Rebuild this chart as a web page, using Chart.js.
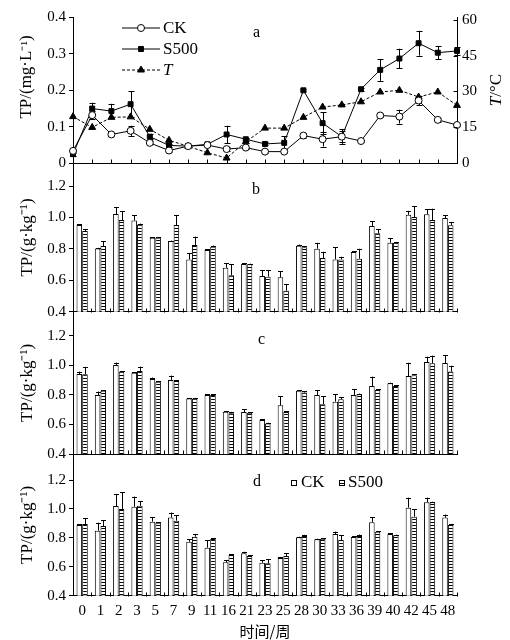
<!DOCTYPE html>
<html>
<head>
<meta charset="utf-8">
<script src="https://cdn.jsdelivr.net/npm/chart.js@4.4.1/dist/chart.umd.min.js"></script>
<style>
  html, body { margin: 0; padding: 0; background: #fff; }
  #wrap { position: relative; width: 510px; height: 640px; }
  #wrap canvas { position: absolute; left: 0; top: 0; }
</style>
</head>
<body>
<div id="wrap">
  <canvas id="ca" width="510" height="640"></canvas>
  <canvas id="cb" width="510" height="640"></canvas>
  <canvas id="cc" width="510" height="640"></canvas>
  <canvas id="cd" width="510" height="640"></canvas>
</div>
<script>
const weeks = ["0", "1", "2", "3", "5", "7", "9", "11", "16", "21", "23", "25", "28", "30", "33", "36", "39", "40", "42", "45", "48"];

// a: water TP (mg/L) and temperature
const waterCK = [0.034, 0.132, 0.079, 0.089, 0.056, 0.035, 0.047, 0.05, 0.039, 0.043, 0.032, 0.032, 0.076, 0.066, 0.073, 0.061, 0.131, 0.128, 0.172, 0.119, 0.105];
const waterCKErr = [0.005, 0.01, 0.005, 0.014, 0.004, 0.004, 0.003, 0.003, 0.006, 0.003, 0.003, 0.003, 0.008, 0.02, 0.016, 0.003, 0.005, 0.019, 0.012, 0.006, 0.004];
const waterS500 = [0.025, 0.15, 0.143, 0.162, 0.073, 0.049, 0.047, 0.052, 0.079, 0.066, 0.053, 0.056, 0.2, 0.11, 0.073, 0.203, 0.256, 0.287, 0.329, 0.303, 0.308];
const waterS500Err = [0.006, 0.016, 0.02, 0.036, 0.006, 0.004, 0.003, 0.003, 0.024, 0.004, 0.004, 0.018, 0.003, 0.03, 0.02, 0.004, 0.03, 0.027, 0.034, 0.018, 0.012];
const tempT = [19.5, 15, 19.2, 19.4, 14.2, 9.6, 7.1, 4.4, 2.2, 9, 14.7, 14.7, 19.2, 23.5, 24.4, 25.7, 29.8, 30.5, 27.7, 29.8, 24.2];

// b, c, d: sediment TP (g/kg)
const bCK = [0.952, 0.803, 1.022, 0.98, 0.871, 0.85, 0.733, 0.793, 0.68, 0.704, 0.627, 0.619, 0.82, 0.801, 0.733, 0.78, 0.946, 0.839, 1.017, 1.02, 0.996];
const bCKErr = [0.005, 0.004, 0.042, 0.036, 0.003, 0.003, 0.04, 0.005, 0.028, 0.004, 0.038, 0.04, 0.007, 0.038, 0.077, 0.004, 0.03, 0.028, 0.025, 0.032, 0.017];
const bS500 = [0.914, 0.818, 0.984, 0.956, 0.871, 0.952, 0.825, 0.814, 0.632, 0.702, 0.623, 0.534, 0.81, 0.742, 0.733, 0.737, 0.899, 0.839, 1.003, 0.984, 0.95];
const bS500Err = [0.01, 0.03, 0.057, 0.005, 0.003, 0.064, 0.053, 0.007, 0.07, 0.004, 0.04, 0.043, 0.007, 0.04, 0.017, 0.064, 0.025, 0.004, 0.068, 0.072, 0.02];

const cCK = [0.941, 0.799, 1.002, 0.95, 0.907, 0.9, 0.776, 0.799, 0.686, 0.684, 0.63, 0.729, 0.828, 0.799, 0.754, 0.799, 0.86, 0.878, 0.927, 1.022, 1.015];
const cCKErr = [0.016, 0.023, 0.016, 0.004, 0.01, 0.03, 0.003, 0.004, 0.004, 0.02, 0.004, 0.063, 0.004, 0.031, 0.052, 0.038, 0.063, 0.004, 0.09, 0.036, 0.052];
const cS500 = [0.939, 0.828, 0.957, 0.961, 0.889, 0.893, 0.776, 0.799, 0.675, 0.679, 0.607, 0.684, 0.815, 0.736, 0.77, 0.804, 0.833, 0.86, 0.932, 1.013, 0.957];
const cS500Err = [0.05, 0.004, 0.004, 0.03, 0.004, 0.004, 0.003, 0.004, 0.01, 0.004, 0.004, 0.004, 0.01, 0.056, 0.012, 0.004, 0.004, 0.004, 0.006, 0.052, 0.04];

const dCK = [0.889, 0.85, 1.02, 1.015, 0.912, 0.94, 0.773, 0.732, 0.631, 0.693, 0.628, 0.661, 0.804, 0.79, 0.827, 0.806, 0.908, 0.827, 1.009, 1.046, 0.94];
const dCKErr = [0.004, 0.055, 0.08, 0.07, 0.03, 0.035, 0.016, 0.053, 0.016, 0.011, 0.018, 0.004, 0.004, 0.004, 0.016, 0.004, 0.035, 0.004, 0.069, 0.032, 0.021];
const dS500 = [0.896, 0.882, 1.0, 1.022, 0.905, 0.919, 0.808, 0.792, 0.681, 0.675, 0.624, 0.675, 0.813, 0.794, 0.785, 0.813, 0.843, 0.818, 0.946, 1.046, 0.889];
const dS500Err = [0.04, 0.041, 0.115, 0.033, 0.004, 0.039, 0.016, 0.004, 0.004, 0.004, 0.028, 0.018, 0.008, 0.004, 0.035, 0.01, 0.004, 0.004, 0.053, 0.004, 0.004];

const SERIF = "'Liberation Serif', 'Times New Roman', serif";
Chart.defaults.font.family = SERIF;
Chart.defaults.font.size = 15;
Chart.defaults.color = "#000";

// horizontal-stripe fill for the S500 bars
function stripes() {
  const c = document.createElement("canvas");
  c.width = 4;
  c.height = 3;
  const g = c.getContext("2d");
  g.fillStyle = "#fff";
  g.fillRect(0, 0, 4, 3);
  g.fillStyle = "#000";
  g.fillRect(0, 0, 4, 1);
  return g.createPattern(c, "repeat");
}
const stripeFill = stripes();

// error bars, drawn from each dataset's err array through the y scale
function drawErrors(chart, both, cap) {
  const ctx = chart.ctx;
  ctx.save();
  ctx.strokeStyle = "#000";
  ctx.lineWidth = 1;
  chart.data.datasets.forEach((ds, i) => {
    if (!ds.err) return;
    const ys = chart.scales[ds.yAxisID || "y"];
    chart.getDatasetMeta(i).data.forEach((el, j) => {
      const v = ds.data[j];
      const e = ds.err[j];
      const x = Math.round(el.x) + 0.5;
      const top = ys.getPixelForValue(v + e);
      const bot = both ? ys.getPixelForValue(v - e) : ys.getPixelForValue(v);
      ctx.beginPath();
      ctx.moveTo(x, top);
      ctx.lineTo(x, bot);
      ctx.moveTo(x - cap / 2, Math.round(top) + 0.5);
      ctx.lineTo(x + cap / 2, Math.round(top) + 0.5);
      if (both) {
        ctx.moveTo(x - cap / 2, Math.round(bot) + 0.5);
        ctx.lineTo(x + cap / 2, Math.round(bot) + 0.5);
      }
      ctx.stroke();
    });
  });
  ctx.restore();
}

// small tick marks pointing into the plot
function innerTicks(chart, between) {
  const ctx = chart.ctx;
  const xs = chart.scales.x;
  const b = Math.round(chart.chartArea.bottom) + 0.5;
  ctx.save();
  ctx.strokeStyle = "#000";
  ctx.lineWidth = 1;
  ctx.beginPath();
  const n = weeks.length;
  if (between) {
    const w = xs.getPixelForTick(1) - xs.getPixelForTick(0);
    for (let i = 1; i <= n; i++) {
      const x = Math.round(xs.getPixelForTick(i - 1) + w / 2) + 0.5;
      ctx.moveTo(x, b);
      ctx.lineTo(x, b - 4);
    }
  } else {
    for (let i = 1; i < n - 1; i++) {
      const x = Math.round(xs.getPixelForTick(i)) + 0.5;
      ctx.moveTo(x, b);
      ctx.lineTo(x, b - 4);
    }
  }
  if (chart.scales.y1) {
    const y1 = chart.scales.y1;
    const r = Math.round(chart.chartArea.right) + 0.5;
    y1.ticks.forEach((t) => {
      const y = Math.round(y1.getPixelForValue(t.value)) + 0.5;
      ctx.moveTo(r, y);
      ctx.lineTo(r - 4, y);
    });
  }
  ctx.stroke();
  ctx.restore();
}

function vText(ctx, parts, x, y) {
  // parts: [[text, font], ...], drawn bottom-to-top, centred on (x, y)
  let total = 0;
  parts.forEach((p) => { ctx.font = p[1]; total += ctx.measureText(p[0]).width; });
  ctx.save();
  ctx.translate(x, y + total / 2);
  ctx.rotate(-Math.PI / 2);
  ctx.textAlign = "left";
  ctx.textBaseline = "middle";
  ctx.fillStyle = "#000";
  let off = 0;
  parts.forEach((p) => {
    ctx.font = p[1];
    ctx.fillText(p[0], off, 0);
    off += ctx.measureText(p[0]).width;
  });
  ctx.restore();
}

const waterPlugin = {
  id: "waterPlugin",
  beforeDatasetsDraw(chart) {
    drawErrors(chart, true, 6);
  },
  afterDraw(chart) {
    const ctx = chart.ctx;
    innerTicks(chart, false);
    // legend: line + marker + label
    const ly = [27.5, 48.5, 69.5];
    ctx.save();
    chart.data.datasets.forEach((ds, i) => {
      ctx.strokeStyle = "#000";
      ctx.lineWidth = 1;
      ctx.setLineDash(ds.borderDash || []);
      ctx.beginPath();
      ctx.moveTo(122, ly[i] + 0.5);
      ctx.lineTo(160, ly[i] + 0.5);
      ctx.stroke();
      ctx.setLineDash([]);
      ctx.fillStyle = ds.pointBackgroundColor;
      Chart.helpers.drawPoint(ctx, { pointStyle: ds.pointStyle, radius: ds.pointRadius, rotation: 0, borderWidth: 1 }, 141, ly[i] + 0.5);
      ctx.fillStyle = "#000";
      ctx.textBaseline = "middle";
      ctx.textAlign = "left";
      ctx.font = (ds.label === "T" ? "italic " : "") + "17px " + SERIF;
      ctx.fillText(ds.label, 163, ly[i] + 1);
    });
    ctx.font = "16px " + SERIF;
    ctx.fillText("a", 253, 33);
    ctx.restore();
    vText(ctx, [["TP/(mg·L", "17px " + SERIF], ["⁻¹", "15px " + SERIF], [")", "17px " + SERIF]], 27, 77);
    vText(ctx, [["T", "italic 17px " + SERIF], ["/°C", "17px " + SERIF]], 497, 90);
  }
};

new Chart(document.getElementById("ca"), {
  type: "line",
  data: {
    labels: weeks,
    datasets: [
      {
        label: "CK", data: waterCK, err: waterCKErr, yAxisID: "y",
        borderColor: "#000", borderWidth: 1, clip: false,
        pointStyle: "circle", pointRadius: 3.5, pointBackgroundColor: "#fff", pointBorderColor: "#000", pointBorderWidth: 1
      },
      {
        label: "S500", data: waterS500, err: waterS500Err, yAxisID: "y",
        borderColor: "#000", borderWidth: 1, clip: false,
        pointStyle: "rect", pointRadius: 3.5, pointBackgroundColor: "#000", pointBorderColor: "#000", pointBorderWidth: 1
      },
      {
        label: "T", data: tempT, yAxisID: "y1",
        borderColor: "#000", borderWidth: 1, borderDash: [3, 2], clip: false,
        pointStyle: "triangle", pointRadius: 4, pointBackgroundColor: "#000", pointBorderColor: "#000", pointBorderWidth: 1
      }
    ]
  },
  options: {
    responsive: false,
    animation: false,
    devicePixelRatio: 1,
    layout: { padding: { top: 17.3, bottom: 640 - 163.3 - 10, left: 0, right: 0 } },
    plugins: { legend: { display: false }, tooltip: { enabled: false } },
    scales: {
      x: {
        offset: false,
        grid: { display: false, drawTicks: false },
        border: { color: "#000" },
        ticks: { display: false },
        afterFit(s) { s.height = 10; }
      },
      y: {
        position: "left", min: 0, max: 0.4,
        ticks: { stepSize: 0.1, padding: 3, callback: (v) => (v === 0 ? "0" : v.toFixed(1)) },
        grid: { drawOnChartArea: false, tickLength: 4, color: "#000" },
        border: { color: "#000" },
        afterFit(s) { s.width = 73; }
      },
      y1: {
        position: "right", min: 0, max: 61,
        ticks: { stepSize: 15, includeBounds: false, padding: 5 },
        grid: { display: false, drawTicks: false },
        border: { color: "#000" },
        afterFit(s) { s.width = 53; }
      }
    }
  },
  plugins: [waterPlugin]
});

function barPanel(id, ck, ckErr, s5, s5Err, top, bottom, max, letter, letterX, letterY, last) {
  const xHeight = last ? 640 - bottom : 10;
  const plugin = {
    id: "bars" + id,
    afterDatasetsDraw(chart) {
      drawErrors(chart, false, 5);
    },
    afterDraw(chart) {
      innerTicks(chart, true);
      const ctx = chart.ctx;
      ctx.save();
      ctx.fillStyle = "#000";
      ctx.textBaseline = "middle";
      ctx.textAlign = "left";
      ctx.font = "16px " + SERIF;
      ctx.fillText(letter, letterX, letterY);
      if (last) {
        // legend boxes
        const items = [[291, 301], [339, 348]];
        chart.data.datasets.forEach((ds, i) => {
          ctx.fillStyle = ds.backgroundColor;
          ctx.fillRect(items[i][0], 480, 5, 5);
          ctx.strokeStyle = "#000";
          ctx.lineWidth = 1;
          ctx.strokeRect(items[i][0] + 0.5, 480.5, 5, 5);
          ctx.fillStyle = "#000";
          ctx.font = "17px " + SERIF;
          ctx.fillText(ds.label, items[i][1], 483);
        });
      }
      ctx.restore();
    }
  };
  return new Chart(document.getElementById(id), {
    type: "bar",
    data: {
      labels: weeks,
      datasets: [
        { label: "CK", data: ck, err: ckErr, backgroundColor: "#fff", borderColor: "#000", borderWidth: 1, borderSkipped: false },
        { label: "S500", data: s5, err: s5Err, backgroundColor: stripeFill, borderColor: "#000", borderWidth: 1, borderSkipped: false }
      ]
    },
    options: {
      responsive: false,
      animation: false,
      devicePixelRatio: 1,
      categoryPercentage: 0.62,
      barPercentage: 0.98,
      layout: { padding: { top: top, bottom: 640 - bottom - xHeight, left: 0, right: 53 } },
      plugins: { legend: { display: false }, tooltip: { enabled: false } },
      scales: {
        x: {
          offset: true,
          grid: { display: false, drawTicks: false },
          border: { color: "#000" },
          ticks: { display: last, autoSkip: false, maxRotation: 0, padding: 6, font: { size: 15 } },
          title: { display: last, text: "时间/周", font: { family: "'Noto Sans CJK SC', sans-serif", size: 15 }, padding: { top: 0, bottom: 0 } },
          afterFit(s) { s.height = xHeight; }
        },
        y: {
          min: 0.4, max: max,
          ticks: { stepSize: 0.2, includeBounds: false, padding: 3, callback: (v) => v.toFixed(1) },
          grid: { drawOnChartArea: false, tickLength: 4, color: "#000" },
          border: { color: "#000" },
          title: { display: true, text: "TP/(g·kg⁻¹)", font: { size: 17 }, padding: { top: 17, bottom: 0 } },
          afterFit(s) { s.width = 73; }
        }
      }
    },
    plugins: [plugin]
  });
}

barPanel("cb", bCK, bCKErr, bS500, bS500Err, 163.3, 311.7, 1.345, "b", 252, 190, false);
barPanel("cc", cCK, cCKErr, cS500, cS500Err, 311.7, 454, 1.362, "c", 258, 340, false);
barPanel("cd", dCK, dCKErr, dS500, dS500Err, 454, 595.7, 1.38, "d", 253, 482, true);
</script>
</body>
</html>
